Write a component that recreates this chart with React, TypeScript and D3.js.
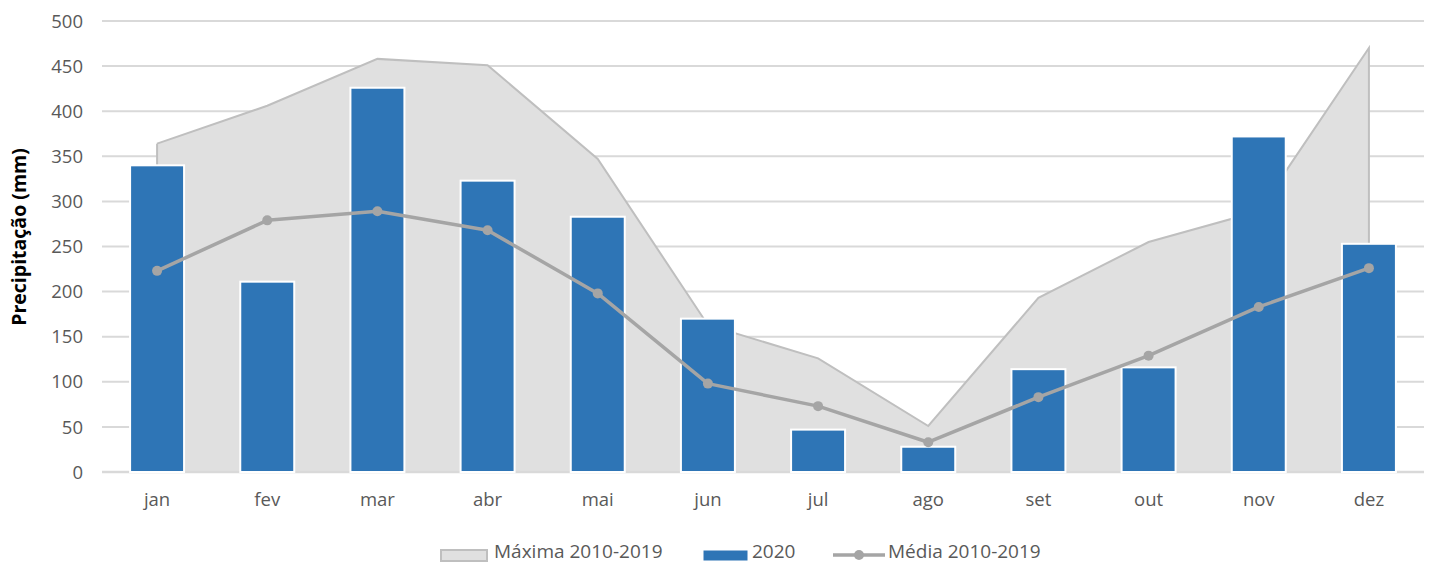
import React from "react";
import * as d3 from "d3";

const months = ["jan", "fev", "mar", "abr", "mai", "jun", "jul", "ago", "set", "out", "nov", "dez"];
const maxima = [364, 406, 458, 451, 347, 163, 126, 51, 193, 255, 289, 470];
const values2020 = [340, 211, 426, 323, 283, 170, 47, 28, 114, 116, 372, 253];
const media = [223, 279, 289, 268, 198, 98, 73, 33, 83, 129, 183, 226];
const yTicks = [0, 50, 100, 150, 200, 250, 300, 350, 400, 450, 500];

const W = 1431, H = 564;
const left = 102, right = 1424, top = 21, bottom = 472;
const FONT = "'Open Sans', sans-serif";

export default function App() {
  const x = d3.scaleBand().domain(months).range([left, right]).paddingInner(0.51).paddingOuter(0.255);
  const xc = (m: string) => (x(m) as number) + x.bandwidth() / 2;
  const y = d3.scaleLinear().domain([0, 500]).range([bottom, top]);

  const areaGen = d3.area<number>().x((_, i) => xc(months[i])).y0(y(0)).y1((d) => y(d));
  const lineGen = d3.line<number>().x((_, i) => xc(months[i])).y((d) => y(d));
  const outline = `M${xc(months[0])},${y(0)}L${xc(months[0])},${y(maxima[0])}` +
    (lineGen(maxima) as string).replace(/^M/, "L") + `L${xc(months[11])},${y(0)}`;

  return (
    <svg width={W} height={H} style={{ position: "absolute", left: 0, top: 0, background: "#fff" }} fontFamily={FONT}>
      {yTicks.map((t) => (
        <g key={t}>
          {t > 0 && <line x1={left} x2={right} y1={y(t)} y2={y(t)} stroke="#d9d9d9" strokeWidth={2} />}
          <text x={83} y={y(t)} dy="0.36em" textAnchor="end" fontSize={18.5} fill="#595959">{t}</text>
        </g>
      ))}
      <path d={areaGen(maxima) as string} fill="#e0e0e0" />
      <path d={outline} fill="none" stroke="#bfbfbf" strokeWidth={2} />
      <line x1={left} x2={right} y1={y(0)} y2={y(0)} stroke="#d9d9d9" strokeWidth={2.5} />
      {values2020.map((v, i) => (
        <rect key={i} x={x(months[i])} y={y(v)} width={x.bandwidth()} height={y(0) - y(v)}
          fill="#2e75b6" stroke="#fff" strokeWidth={2} />
      ))}
      <path d={lineGen(media) as string} fill="none" stroke="#a5a5a5" strokeWidth={3.5} strokeLinejoin="round" />
      {media.map((v, i) => (
        <circle key={i} cx={xc(months[i])} cy={y(v)} r={5} fill="#a5a5a5" />
      ))}
      {months.map((m) => (
        <text key={m} x={xc(m)} y={506} textAnchor="middle" fontSize={18.5} fill="#595959">{m}</text>
      ))}
      <text transform={`translate(26,237) rotate(-90)`} textAnchor="middle" fontSize={19.5} fontWeight="bold" fill="#000">Precipitação (mm)</text>
      <g>
        <rect x={441} y={550} width={46} height={11} fill="#e0e0e0" stroke="#bfbfbf" strokeWidth={2} />
        <text x={494} y={558} fontSize={19} fill="#595959">Máxima 2010-2019</text>
        <rect x={703} y={550} width={45} height={11} fill="#2e75b6" stroke="#fff" strokeWidth={1} />
        <text x={752} y={558} fontSize={19} fill="#595959">2020</text>
        <line x1={833} x2={885} y1={555} y2={555} stroke="#a5a5a5" strokeWidth={3.5} />
        <circle cx={859} cy={555} r={5} fill="#a5a5a5" />
        <text x={888} y={558} fontSize={19} fill="#595959">Média 2010-2019</text>
      </g>
    </svg>
  );
}
